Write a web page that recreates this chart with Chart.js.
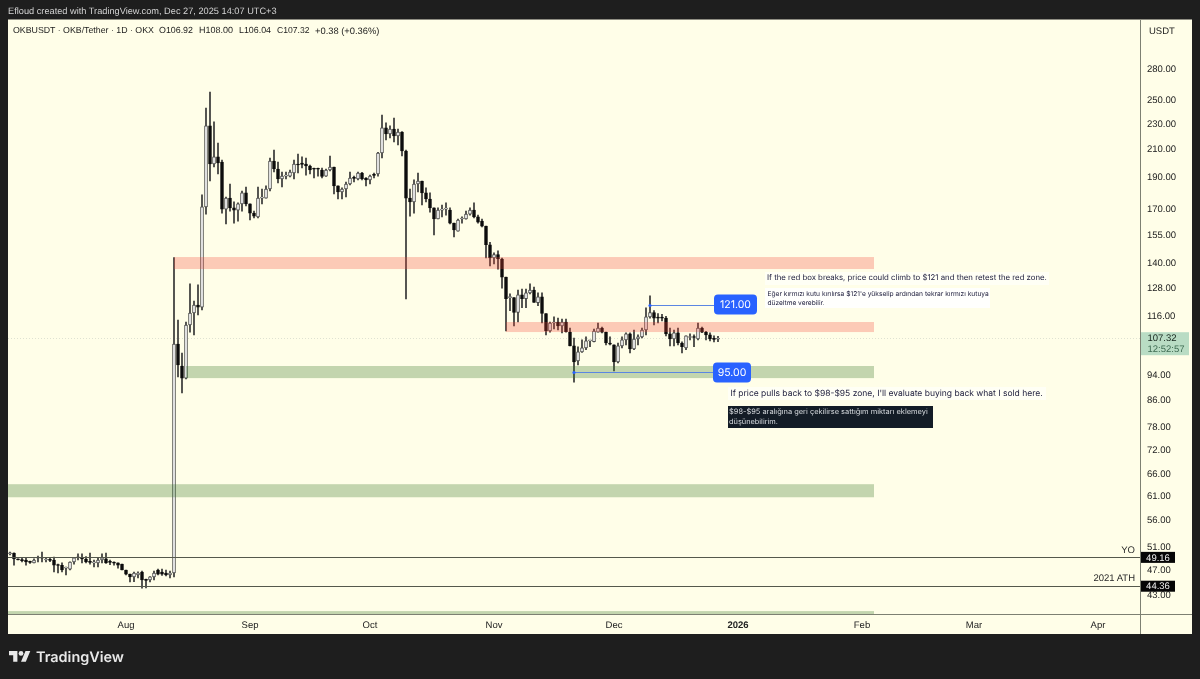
<!DOCTYPE html>
<html><head><meta charset="utf-8">
<style>html,body{margin:0;padding:0;background:#1e1e1e;overflow:hidden}canvas{display:block}</style>
<script src="https://cdn.jsdelivr.net/npm/chart.js@4"></script>
</head><body><canvas id="c" width="1200" height="679"></canvas>
<script>
const opens=[49.8,49.9,48.9,48.7,48.7,48.35,48.2,49,49.06,48.7,48.7,48.7,47.8,47.8,47.3,47.15,48.35,49.06,49.06,48.88,48.35,48.2,48.2,48.7,48.9,48.35,48.2,48.2,48,47,46.3,45.85,46.2,46.67,45.36,45.36,45.85,47,46.67,46.5,46.2,46.5,
105.1,97.2,93.1,112.5,117.4,120.8,119.9,171.3,228.7,199.6,204.7,201,170,176.8,170.7,169.4,173.2,180.1,173.2,167.6,165.3,176.8,176.8,182.6,201.7,196.1,189.2,191.2,191.2,193.3,199.6,200.3,199.6,198.2,196.1,196.1,195.4,191.2,195.4,197.5,184.6,180.7,182.6,185.9,189.9,189.2,193.3,189.9,188.6,191.9,192.6,207.6,227,222.1,226.1,220.6,223.7,209.1,176.8,174.4,185.9,187.9,180.1,176.2,170.7,164.1,169.4,170,169.4,161.7,157.2,164.1,164.1,167,169.4,165.3,162.9,160,149.7,142.8,144.5,142.3,133.4,124,124,117.6,125.3,123.5,126.1,127.4,121.8,124.4,117.2,110.1,113.3,113.7,112.1,113.7,109.7,104.4,99,102.2,103.7,106.3,106,109.7,111.3,109.7,105.5,104.8,98.6,104.4,106.7,109,103.3,107,107.8,110.5,115.8,117.6,115.5,115.5,115.3,109,107,109.4,105.5,103.7,107.6,107.8,107,111.3,109.7,108.6,107.2,106.92];
const highs=[50.1,49.95,48.9,49.06,49,48.5,48.9,49.4,50.1,49.06,49,49.2,48,48.2,47.5,48.4,49.1,49.8,49.8,49.3,49.9,48.7,49,49.8,49.9,48.7,48.4,48.2,48,47,46.3,46.67,46.7,46.8,45.5,45.9,46.8,47.17,47.17,47,46.8,143,
114.5,101.8,113.7,130.2,122.5,129.8,178.8,243.7,258,231.9,215.1,202.4,177.5,185.9,174.4,173.8,181.3,183.9,173.2,168.8,183.9,182.6,184.6,203.9,209.8,201,194,194,195.4,202.4,206.8,204.7,203.9,198.9,196.8,196.8,196.8,196.1,205.4,197.5,184.6,183.3,187.2,194,191.2,194,193.8,190.2,191.9,193.3,208,237.6,231.1,228.7,235.1,226.1,224,209.8,182.6,188.6,193.3,187.9,183.3,180.1,170.7,170.7,172.5,173.8,170.7,161.7,164.1,165.3,168.8,170.7,173.8,166.4,164.1,160,151,145.5,146.5,142.8,133.4,125.7,124,127.4,127.9,127.9,130.2,128.8,126.1,126.1,117.2,113.7,115.8,115.3,114.9,114.9,111.3,107.4,104.1,106.7,107.8,106.5,110.9,113.3,111.7,109.7,107.8,104.8,105.5,107.8,109.4,109.4,110.5,108.6,111.3,119.6,124.8,118.4,117.2,116.8,116,111.3,110.5,111.3,105.9,108.2,109,108.6,113.3,111.7,110,109.4,108.2,108];
const lows=[49.6,47.8,48.7,48.35,47.8,48.1,48.2,48.35,48.35,48.35,48.4,46.67,46.5,46.67,46.2,47,48,48.7,48.2,48.2,48,47.5,47.5,48.2,48.1,47.9,47.8,47.3,47,46.2,45.04,45.1,45.7,44.05,44.1,45.04,45.36,46.2,46.1,46,45.7,45.85,
93.5,88.3,92.8,109.7,108.6,116.6,118.7,167,187.9,197.5,192.6,167.6,161.2,168.8,161.7,162.9,168.8,171.9,163.5,164.7,164.7,173.2,176.8,181.3,194,186.6,183.9,189.2,190.6,189.2,193.3,196.8,191.9,192.6,189.9,191.2,189.9,191,194.7,179.4,176.2,176.2,177.5,185.2,187.2,188.6,188.6,184.6,185.9,189.9,191.2,203.9,217.4,219,215.9,213.6,205.4,123.4,165.8,167.6,180.7,172.5,174.4,168.2,155,164.1,165.3,166.4,161.2,153.9,157.2,161.7,164,166.4,164.7,161.7,159.5,142.8,138.8,139.8,137.3,128.3,110.1,118.4,112.1,113.7,119.6,119.6,125.7,121.9,120.5,113.3,108.6,109.7,110.9,110.5,109.4,109.7,104.4,91.8,97.6,102,103,104.1,105.9,109.7,109.4,104.8,104.8,95.5,98.3,103.7,104.8,101.8,103,104.8,107.4,108.6,115.3,112.5,113.3,114.1,108.2,104.4,104.4,104.8,101.8,103,106.7,104.1,106.7,109.5,106.7,106.3,105.9,106.04];
const closes=[49.95,48.9,48.7,48.6,48.35,48.3,48.7,49.06,49,48.7,48.65,47.8,47.75,47,47.32,48.35,49.06,49.1,48.88,48.35,48.3,48.2,48.7,49.06,48.2,48.3,48.15,47.8,47,46.3,45.85,46.5,46.5,45.36,45.3,45.85,46.5,46.3,46.3,46.2,46.5,105.1,
97.6,93.1,112.5,117.4,120.8,119.9,171.3,228.7,199.6,204.7,200.3,170,176.8,170.7,169.4,173.2,180.1,173.2,167.6,165.8,176.8,177,182.6,201.7,196.1,189.2,191.2,191.4,194,199.6,198.9,199.3,198.2,195.4,195.9,195.9,190.9,195.4,197.5,184.6,180.7,182.6,185.9,189.9,189.7,193.3,189.2,188.6,191.2,191.7,207.6,227,222.1,226.1,220.6,223.7,209.1,176.8,174.4,185.9,187.9,180.1,176.2,170.7,164.1,169.4,169.9,170.3,161.7,157.8,163.5,164.3,167,169.4,165.3,162.3,160,149.7,142.8,144.5,142.3,133.4,123.5,124.4,117.6,125.3,123.5,126.1,127.4,121.9,124.4,117.2,110.1,113.3,113.6,112.1,113.7,109.8,104.4,98.6,102.2,103.7,106.3,106.4,110.1,111.3,109.7,105.5,105.1,98.6,104.4,106.7,109,103.3,107,107.8,110.5,115.8,117.6,115.3,115.3,115.3,109,107,109.4,105.5,104.1,108.2,107.9,107.6,111.3,109.7,108.6,107,106.9,107.32];

const firstDay=Date.UTC(2025,6,3), dayCount=283;
const days=[];
for(let i=0;i<dayCount;i++) days.push(new Date(firstDay+i*864e5).toISOString().slice(0,10));
const tickDays=['2025-08-01','2025-09-01','2025-10-01','2025-11-01','2025-12-01','2026-01-01','2026-02-01','2026-03-01','2026-04-01'];
const tickNames=['Aug','Sep','Oct','Nov','Dec','2026','Feb','Mar','Apr'];
const priceTicks=[43,47,51,56,61,66,72,78,86,94,116,128,140,155,170,190,210,230,250,280];

const zoneStart=['2025-08-13','2025-11-04','2025-08-16','2025-07-03','2025-07-03'];
const zoneEnd=['2026-02-04','2026-02-04','2026-02-04','2026-02-04','2026-02-04'];
const zoneLow=[137.3,109.7,93.1,60.9,40.18];
const zoneHigh=[143.3,113.7,97.2,63.8,40.6];
const zoneRed=[true,true,false,false,false];
const levelPrices=[49.16,44.36];
const levelNames=['YO','2021 ATH'];
const targetPrices=[121,95];
const targetStart=['2025-12-10','2025-11-21'];
const targetEnd=['2025-12-27','2025-12-27'];
const lastClose=107.32;

const F='"Liberation Sans",Arial,sans-serif', I='Inter,"Liberation Sans",sans-serif';
const CREAM='#fffee8';
const wickData=days.map((d,i)=>i<closes.length?[lows[i],highs[i]]:null);
const bodyData=days.map((d,i)=>i<closes.length?[Math.min(opens[i],closes[i]),Math.max(opens[i],closes[i])]:null);
const bodyFill=days.map((d,i)=>closes[i]>=opens[i]?'#ffffff':'#0c0c0c');
const bodyEdge=days.map((d,i)=>closes[i]>=opens[i]?'#4a4a4a':'#0c0c0c');

function txt(ctx,s,x,y,font,color,align){ctx.font=font;ctx.fillStyle=color;ctx.textAlign=align||'left';ctx.textBaseline='middle';ctx.fillText(s,x,y);}
function fit(ctx,s,x,y,w,pre,family,color){ctx.font=pre+'100px '+family;const size=100*w/ctx.measureText(s).width;txt(ctx,s,x,y,pre+size.toFixed(2)+'px '+family,color);}
function rr(ctx,x,y,w,h,r,fill){ctx.fillStyle=fill;ctx.beginPath();ctx.roundRect(x,y,w,h,r);ctx.fill();}

const panel={id:'panel',
 beforeDraw(c){const x=c.ctx;x.textRendering='geometricPrecision';x.save();x.fillStyle='#1e1e1e';x.fillRect(0,0,1200,679);x.fillStyle=CREAM;x.fillRect(8,19.5,1184,614.5);x.restore();
  const a=c.chartArea,ys=c.scales.y;x.save();x.strokeStyle='#dfe2d2';x.setLineDash([1,2]);x.lineWidth=1;const py=Math.round(ys.getPixelForValue(lastClose))+.5;x.beginPath();x.moveTo(a.left,py);x.lineTo(a.right,py);x.stroke();x.restore();},
 afterDatasetsDraw(c){const x=c.ctx,a=c.chartArea,xs=c.scales.x,ys=c.scales.y;x.save();
  x.beginPath();x.rect(a.left,a.top,a.width,a.height);x.clip();
  zoneLow.forEach((low,i)=>{const si=days.indexOf(zoneStart[i]);const l=si===0?a.left:xs.getPixelForValue(si);const r=xs.getPixelForValue(days.indexOf(zoneEnd[i]));
   const t=ys.getPixelForValue(zoneHigh[i]),b=ys.getPixelForValue(low);x.fillStyle=zoneRed[i]?'rgba(244,67,54,.28)':'rgba(56,120,40,.3)';x.fillRect(l,t,r-l,b-t);});
  levelPrices.forEach(p=>{const y=Math.round(ys.getPixelForValue(p))+.5;x.strokeStyle='#55584c';x.lineWidth=1;x.beginPath();x.moveTo(a.left,y);x.lineTo(a.right,y);x.stroke();});
  targetPrices.forEach((p,i)=>{const y=Math.round(ys.getPixelForValue(p))+.5,l=xs.getPixelForValue(days.indexOf(targetStart[i])),r=xs.getPixelForValue(days.indexOf(targetEnd[i]));
   x.strokeStyle='#5b86e2';x.lineWidth=1;x.beginPath();x.moveTo(l,y);x.lineTo(r,y);x.stroke();
   x.fillStyle='#2962ff';x.beginPath();x.arc(l,y,1.6,0,7);x.fill();});
  x.restore();
  x.save();
  const y121=ys.getPixelForValue(targetPrices[0]),y95=ys.getPixelForValue(targetPrices[1]);
  rr(x,714,y121-10,43,20,4,'#2962ff');txt(x,'121.00',735.5,y121+.5,'10.5px '+I,'#ffffff','center');
  rr(x,713,y95-10,38,20,4,'#2962ff');txt(x,'95.00',732,y95+.5,'10.5px '+I,'#ffffff','center');
  x.fillStyle='rgba(255,255,255,.55)';x.fillRect(765,272,284,13);
  fit(x,'If the red box breaks, price could climb to $121 and then retest the red zone.',767,278,280,'',I,'#1b1b3a');
  x.fillStyle='rgba(255,255,255,.9)';x.fillRect(765,288,225,20);
  fit(x,'Eğer kırmızı kutu kırılırsa $121\'e yükselip ardından tekrar kırmızı kutuya',767.5,293.5,221.5,'',I,'#1b1b3a');
  fit(x,'düzeltme verebilir.',767.5,303,57,'',I,'#1b1b3a');
  x.fillStyle='rgba(255,255,255,.55)';x.fillRect(728,387,318,13);
  fit(x,'If price pulls back to $98-$95 zone, I\'ll evaluate buying back what I sold here.',730.5,393.5,312.5,'',I,'#1b1b3a');
  x.fillStyle='#131c26';x.fillRect(728,406,205,22);
  fit(x,'$98-$95 aralığına geri çekilirse sattığım miktarı eklemeyi',729,412,199,'',I,'#d8dce0');
  fit(x,'düşünebilirim.',729,421.5,49,'',I,'#d8dce0');
  levelNames.forEach((n,i)=>{const y=ys.getPixelForValue(levelPrices[i]);txt(x,n,1135,y-7.5,'9.5px '+F,'#2a2a2a','right');});
  x.restore();
 },
 afterDraw(c){const x=c.ctx,ys=c.scales.y;x.save();
  x.strokeStyle='#7d8072';x.lineWidth=1;x.beginPath();x.moveTo(8,614.5);x.lineTo(1192,614.5);x.moveTo(1140.5,20);x.lineTo(1140.5,634);x.stroke();
  fit(x,'Efloud created with TradingView.com, Dec 27, 2025 14:07 UTC+3',8,11,269,'',F,'#d4d4d4');
  fit(x,'OKBUSDT · OKB/Tether · 1D · OKX',13,31,141,'',F,'#1c1c1c');
  [['O106.92',159,34],['H108.00',199,34],['L106.04',239,32],['C107.32',277,32.5],['+0.38 (+0.36%)',315,64.5]].forEach(t=>fit(x,t[0],t[1],31,t[2],'',F,'#1c1c1c'));
  txt(x,'USDT',1149,31.5,'9.5px '+F,'#1c1c1c');
  levelPrices.forEach(p=>{const y=ys.getPixelForValue(p);x.fillStyle='#050505';x.fillRect(1141,y-5.5,34,11);txt(x,p.toFixed(2),1158,y+.5,'9.5px '+F,'#f0f0f0','center');});
  const py=ys.getPixelForValue(lastClose);x.fillStyle='#b9dcc4';x.fillRect(1141,py-6,48,23);
  txt(x,lastClose.toFixed(2),1147.5,py+.5,'9.5px '+F,'#16251c');txt(x,'12:52:57',1147.5,py+11,'9.5px '+F,'#3e6b52');
  x.save();x.translate(9,648.6);x.scale(.6,.6);x.fillStyle='#e8e8e8';x.fill(new Path2D('M14 22H7V11H0V4h14v18zM28 22h-8l7.5-18h8L28 22z'));x.beginPath();x.arc(20,8,4,0,7);x.fill();x.restore();
  fit(x,'TradingView',36,657.5,88,'600 ',I,'#e8e8e8');
  x.restore();}
};

new Chart(document.getElementById('c'),{
 type:'bar',
 data:{labels:days,datasets:[
  {label:'Wick',data:wickData,backgroundColor:'#333333',barThickness:1,borderWidth:0,grouped:false,order:2},
  {label:'Body',data:bodyData,backgroundColor:bodyFill,borderColor:bodyEdge,borderWidth:1,borderSkipped:false,barThickness:3,minBarLength:1,grouped:false,order:1}
 ]},
 options:{responsive:false,animation:false,devicePixelRatio:1,
  layout:{padding:{left:8,top:20,right:8,bottom:45}},
  plugins:{legend:{display:false},tooltip:{enabled:false}},
  scales:{
   x:{type:'category',offset:true,grid:{display:false,drawTicks:false},border:{display:false},
    afterBuildTicks(s){s.ticks=s.ticks.filter(t=>tickDays.includes(days[t.value]));},
    afterFit(s){s.height=20;},
    ticks:{autoSkip:false,maxRotation:0,padding:6,color:'#222222',
     font(ctx){return {family:F,size:9.5,weight:ctx.tick&&ctx.tick.label==='2026'?'bold':'normal'};},
     callback(v){return tickNames[tickDays.indexOf(days[v])];}}},
   y:{type:'logarithmic',position:'right',min:40.18,max:333.4,grid:{display:false,drawTicks:false},border:{display:false},
    afterBuildTicks(s){s.ticks=priceTicks.map(v=>({value:v}));},
    afterFit(s){s.width=52;},
    ticks:{autoSkip:false,padding:7,crossAlign:'near',color:'#222222',font:{family:F,size:9.5},callback(v){return Number(v).toFixed(2);}}}
  }},
 plugins:[panel]
});
</script></body></html>
